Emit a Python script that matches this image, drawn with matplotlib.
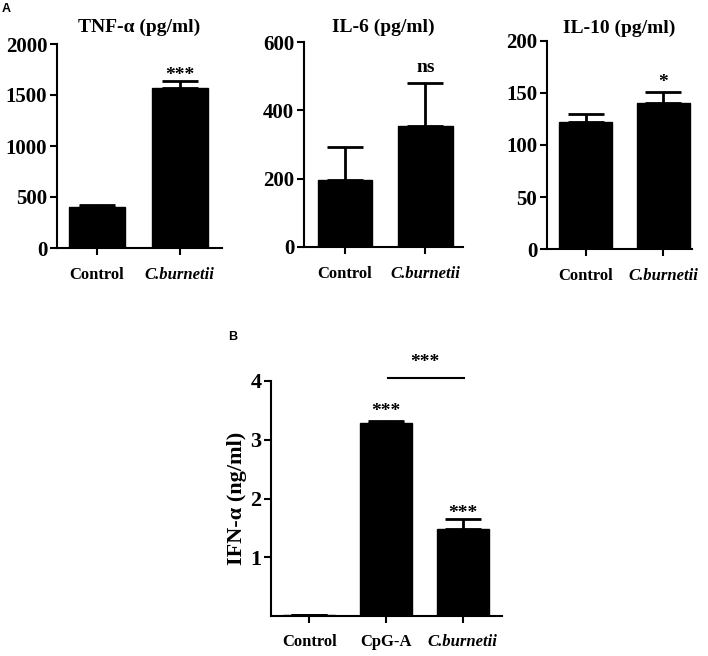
import matplotlib
matplotlib.use("Agg")
import matplotlib.pyplot as plt

plt.rcParams["font.family"] = ["Liberation Serif", "DejaVu Serif"]
plt.rcParams["font.weight"] = "bold"

W, H = 708, 656

# panel A data
groups_a = ["Control", "C.burnetii"]
tnf_mean = [402, 1570]
tnf_err = [15, 67]
il6_mean = [197, 355]
il6_err = [96, 125]
il10_mean = [122, 140]
il10_err = [8, 11]

# panel B data
groups_b = ["Control", "CpG-A", "C.burnetii"]
ifn_mean = [0.02, 3.28, 1.48]
ifn_err = [0.005, 0.04, 0.17]

sig_tnf = ["", "***"]
sig_il6 = ["", "ns"]
sig_il10 = ["", "*"]
sig_ifn = ["", "***", "***"]


def px_axes(fig, left, right, top, bottom):
    return fig.add_axes([left / W, 1 - bottom / H, (right - left) / W, (bottom - top) / H])


def bar_panel(ax, labels, means, errs, sigs, ylim, yticks, xlim, tick_fs, sig_off):
    x = list(range(len(labels)))
    ax.bar(x, means, width=0.68, color="black", edgecolor="black", zorder=2)
    ax.errorbar(x, means, yerr=[[0] * len(errs), errs], fmt="none", ecolor="black",
                elinewidth=2, capsize=13, capthick=2, zorder=3)
    ax.set_ylim(*ylim)
    ax.set_xlim(*xlim)
    ax.set_yticks(yticks)
    ax.set_xticks(x)
    ax.set_xticklabels(labels, fontsize=12, fontweight="bold")
    for lab in ax.get_xticklabels():
        if lab.get_text().startswith("C."):
            lab.set_fontstyle("italic")
    for lab in ax.get_yticklabels():
        lab.set_fontsize(tick_fs)
        lab.set_fontweight("bold")
    ax.spines["top"].set_visible(False)
    ax.spines["right"].set_visible(False)
    ax.spines["left"].set_linewidth(1.5)
    ax.spines["bottom"].set_linewidth(1.5)
    ax.tick_params(axis="y", length=5, width=1.5, pad=2)
    ax.tick_params(axis="x", length=5, width=1.5, pad=9)
    for xi, m, e, s, off in zip(x, means, errs, sigs, sig_off):
        if s:
            ax.annotate(s, (xi, m + e), xytext=(0, off), textcoords="offset points",
                        ha="center", va="bottom", fontsize=14, fontweight="bold",
                        annotation_clip=False)


fig = plt.figure(figsize=(W / 100, H / 100), dpi=100)

ax1 = px_axes(fig, 57, 222, 44, 248)
bar_panel(ax1, groups_a, tnf_mean, tnf_err, sig_tnf, (0, 2000), [0, 500, 1000, 1500, 2000],
          (-0.48, 1.51), 15, [0, -2])
ax1.set_title("TNF-α (pg/ml)", fontsize=14, fontweight="bold", pad=9)

ax2 = px_axes(fig, 304, 463, 42, 247)
bar_panel(ax2, groups_a, il6_mean, il6_err, sig_il6, (0, 600), [0, 200, 400, 600],
          (-0.51, 1.47), 15, [0, 5])
ax2.set_title("IL-6 (pg/ml)", fontsize=14, fontweight="bold", pad=7)

ax3 = px_axes(fig, 547, 692, 41, 249)
bar_panel(ax3, groups_a, il10_mean, il10_err, sig_il10, (0, 200), [0, 50, 100, 150, 200],
          (-0.5, 1.37), 15, [0, 1])
ax3.set_title("IL-10 (pg/ml)", fontsize=14, fontweight="bold", pad=6)

ax4 = px_axes(fig, 271, 502, 381, 616)
bar_panel(ax4, groups_b, ifn_mean, ifn_err, sig_ifn, (0, 4), [1, 2, 3, 4],
          (-0.5, 2.51), 16, [0, 1, -2])
ax4.tick_params(axis="x", pad=8)
ax4.set_ylabel("IFN-α (ng/ml)", fontsize=16, fontweight="bold", labelpad=2)

# bracket between CpG-A and C.burnetii
ax4.plot([1.03, 2.02], [4.05, 4.05], color="black", lw=1.5, clip_on=False)
ax4.text(1.5, 4.17, "***", ha="center", va="bottom", fontsize=14, fontweight="bold")

fig.text(6 / W, 1 - 9 / H, "A", family="Liberation Sans", fontsize=9, fontweight="bold",
         ha="center", va="center")
fig.text(233 / W, 1 - 337 / H, "B", family="Liberation Sans", fontsize=9, fontweight="bold",
         ha="center", va="center")

fig.savefig("out.png", dpi=100)
